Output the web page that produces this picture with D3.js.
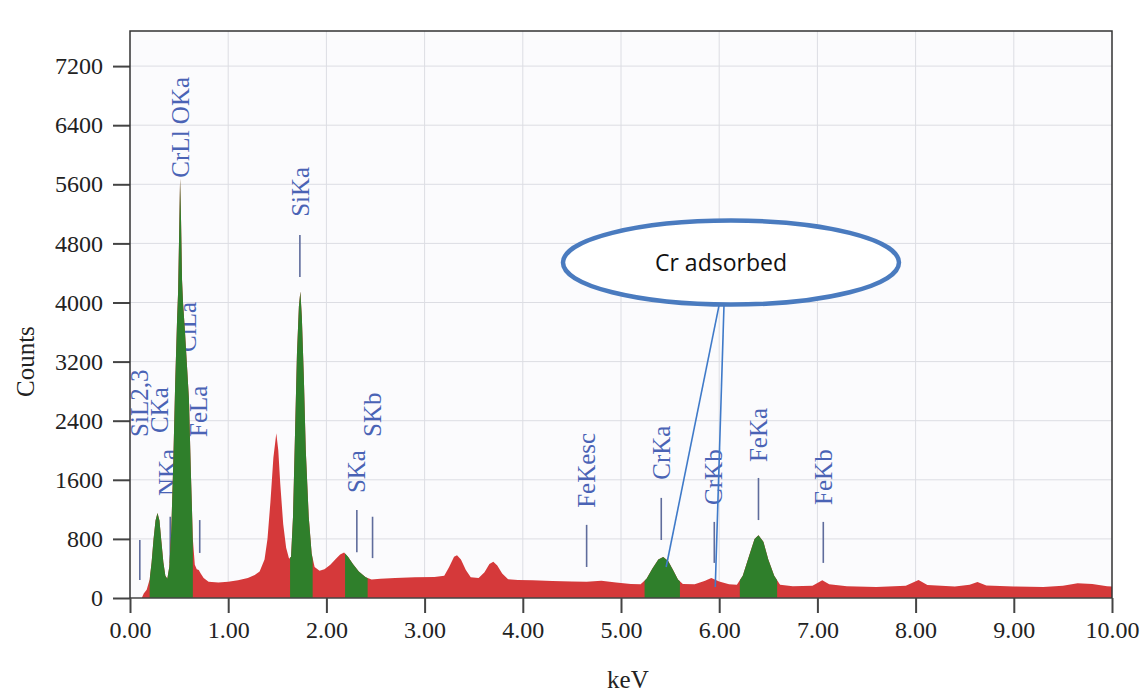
<!DOCTYPE html>
<html>
<head>
<meta charset="utf-8">
<script src="https://cdn.jsdelivr.net/npm/d3@7"></script>
<style>
  body { margin: 0; background: #fff; }
  svg { display: block; }
</style>
</head>
<body>
<div id="chart"></div>
<script>
// EDS spectrum: energy (keV) and counts
var energy = [0.12, 0.14, 0.17, 0.20, 0.22, 0.24, 0.26, 0.28, 0.30, 0.32, 0.34, 0.36, 0.38, 0.40, 0.42, 0.44,
  0.46, 0.48, 0.49, 0.50, 0.51, 0.52, 0.53, 0.54, 0.56, 0.58, 0.60, 0.62, 0.64, 0.66, 0.68, 0.70, 0.72, 0.75,
  0.80, 0.90, 1.00, 1.10, 1.20, 1.27, 1.32, 1.37, 1.40, 1.43, 1.46, 1.49, 1.51, 1.53, 1.56, 1.59, 1.62, 1.64,
  1.66, 1.68, 1.70, 1.72, 1.735, 1.75, 1.77, 1.79, 1.82, 1.85, 1.88, 1.93, 1.98, 2.04, 2.09, 2.14, 2.18, 2.22,
  2.27, 2.33, 2.40, 2.46, 2.55, 2.70, 2.90, 3.10, 3.20, 3.25, 3.30, 3.33, 3.37, 3.42, 3.47, 3.55, 3.61, 3.66,
  3.70, 3.74, 3.79, 3.85, 3.95, 4.10, 4.30, 4.50, 4.65, 4.80, 4.95, 5.10, 5.20, 5.26, 5.32, 5.38, 5.43, 5.48,
  5.53, 5.58, 5.63, 5.75, 5.85, 5.92, 6.00, 6.10, 6.18, 6.24, 6.30, 6.36, 6.40, 6.45, 6.50, 6.56, 6.62, 6.75,
  6.95, 7.05, 7.12, 7.30, 7.60, 7.90, 8.03, 8.12, 8.40, 8.55, 8.63, 8.72, 9.00, 9.30, 9.50, 9.65, 9.80, 9.95,
  10.00];
var counts = [0, 60, 110, 250, 480, 800, 1050, 1150, 1050, 760, 480, 300, 260, 420, 900, 1800,
  2900, 3800, 4150, 4900, 5680, 5100, 4300, 4000, 3600, 3150, 2700, 1700, 800, 450, 390, 380, 330, 270,
  220, 210, 220, 240, 270, 310, 360, 520, 800, 1300, 1900, 2230, 2000, 1550, 1000, 680, 530, 560,
  1100, 2200, 3300, 3950, 4150, 3800, 3000, 2000, 1100, 600, 420, 370, 390, 450, 520, 590, 615, 560,
  460, 360, 280, 250, 260, 270, 280, 285, 300, 420, 560, 580, 520, 380, 280, 270, 350, 460,
  490, 440, 330, 255, 245, 240, 230, 225, 220, 235, 210, 190, 185, 260, 400, 520, 555, 500,
  380, 250, 190, 185, 230, 270, 225, 185, 180, 300, 550, 800, 850, 760, 520, 300, 180, 160,
  165, 240, 185, 160, 150, 165, 245, 175, 155, 180, 215, 170, 155, 150, 165, 200, 190, 160,
  155];

// identified peaks, shown in green (keV ranges)
var peakStart = [0.20, 1.63, 2.19, 5.24, 6.21];
var peakEnd = [0.64, 1.86, 2.42, 5.60, 6.59];

// element line labels
var lineNames = ["SiL2,3", "CKa", "NKa", "CrLl OKa", "ClLa", "FeLa", "SiKa", "SKa", "SKb",
  "FeKesc", "CrKa", "CrKb", "FeKa", "FeKb"];
var lineKeV = [0.10, 0.30, 0.38, 0.51, 0.59, 0.70, 1.74, 2.31, 2.47, 4.65, 5.41, 5.94, 6.40, 7.06];
var lineTextCounts = [2180, 2235, 1380, 5690, 3330, 2180, 5160, 1420, 2180, 1220, 1600, 1260, 1840, 1260];
var markerKeV = [0.10, 0.41, 0.71, 1.73, 2.31, 2.47, 4.65, 5.41, 5.95, 6.40, 7.06];
var markerLow = [245, 475, 610, 4345, 620, 540, 420, 785, 475, 1055, 475];
var markerHigh = [785, 1100, 1055, 4915, 1190, 1100, 990, 1355, 1030, 1625, 1030];

var xTicks = [0, 1, 2, 3, 4, 5, 6, 7, 8, 9, 10];
var yTicks = [0, 800, 1600, 2400, 3200, 4000, 4800, 5600, 6400, 7200];

var W = 1148, H = 694;
var margin = { top: 31, right: 36, bottom: 96, left: 130 };
var width = W - margin.left - margin.right;
var height = H - margin.top - margin.bottom;

var svg = d3.select("#chart").append("svg")
  .attr("width", W)
  .attr("height", H);

var g = svg.append("g")
  .attr("transform", "translate(" + margin.left + "," + margin.top + ")");

var x = d3.scaleLinear().domain([0, 10]).range([0, width]);
var y = d3.scaleLinear().domain([0, 7675]).range([height, 0]);

var data = energy.map(function (e, i) { return { k: e, c: counts[i] }; });

// plot background + grid
g.append("rect").attr("width", width).attr("height", height).attr("fill", "#fbfbfd");

g.append("g").selectAll("line").data(xTicks.slice(1, -1)).enter().append("line")
  .attr("x1", function (d) { return x(d); }).attr("x2", function (d) { return x(d); })
  .attr("y1", 0).attr("y2", height)
  .attr("stroke", "#dcdde3").attr("stroke-width", 1);

g.append("g").selectAll("line").data(yTicks.slice(1)).enter().append("line")
  .attr("x1", 0).attr("x2", width)
  .attr("y1", function (d) { return y(d); }).attr("y2", function (d) { return y(d); })
  .attr("stroke", "#dcdde3").attr("stroke-width", 1);

// line labels (drawn under the spectrum, like the original)
var labelFont = "'Liberation Serif', 'DejaVu Serif', serif";
g.append("g").selectAll("text").data(lineNames).enter().append("text")
  .attr("transform", function (d, i) {
    return "translate(" + x(lineKeV[i]) + "," + y(lineTextCounts[i]) + ") rotate(-90)";
  })
  .attr("dy", "0.34em")
  .attr("font-family", labelFont)
  .attr("font-size", 25)
  .attr("fill", "#4a63b5")
  .text(function (d) { return d; });

// marker ticks
g.append("g").selectAll("line").data(markerKeV).enter().append("line")
  .attr("x1", function (d) { return x(d); }).attr("x2", function (d) { return x(d); })
  .attr("y1", function (d, i) { return y(markerLow[i]); })
  .attr("y2", function (d, i) { return y(markerHigh[i]); })
  .attr("stroke", "#5f6c9c").attr("stroke-width", 1.6);

// spectrum
var area = d3.area()
  .x(function (d) { return x(d.k); })
  .y0(y(0))
  .y1(function (d) { return y(d.c); })
  .curve(d3.curveLinear);

g.append("path").datum(data)
  .attr("d", area)
  .attr("fill", "#d5393a");

var clip = svg.append("defs").append("clipPath").attr("id", "peaks");
clip.selectAll("rect").data(peakStart).enter().append("rect")
  .attr("x", function (d) { return x(d); })
  .attr("width", function (d, i) { return x(peakEnd[i]) - x(d); })
  .attr("y", 0).attr("height", height);

g.append("path").datum(data)
  .attr("d", area)
  .attr("clip-path", "url(#peaks)")
  .attr("fill", "#2f7f2b");

// axes
var axisFont = "'Liberation Serif', 'DejaVu Serif', serif";
var yAxis = g.append("g")
  .call(d3.axisLeft(y).tickValues(yTicks).tickSize(17).tickPadding(10).tickFormat(d3.format("d")));
var xAxis = g.append("g")
  .attr("transform", "translate(0," + height + ")")
  .call(d3.axisBottom(x).tickValues(xTicks).tickSize(15).tickPadding(8).tickFormat(d3.format(".2f")));

[yAxis, xAxis].forEach(function (a) {
  a.select(".domain").remove();
  a.selectAll(".tick line").attr("stroke", "#444").attr("stroke-width", 2);
  a.selectAll(".tick text").attr("font-family", axisFont).attr("font-size", 24).attr("fill", "#222");
});

// frame
g.append("line").attr("x1", 0).attr("x2", width).attr("y1", height).attr("y2", height)
  .attr("stroke", "#444").attr("stroke-width", 1.5);
g.append("path")
  .attr("d", "M0," + height + "V0H" + width + "V" + height)
  .attr("fill", "none").attr("stroke", "#333").attr("stroke-width", 1.5);

// axis titles
svg.append("text")
  .attr("transform", "translate(34," + (margin.top + y(3200)) + ") rotate(-90)")
  .attr("text-anchor", "middle")
  .attr("font-family", axisFont).attr("font-size", 25).attr("fill", "#222")
  .text("Counts");
svg.append("text")
  .attr("x", margin.left + x(5.07)).attr("y", 688)
  .attr("text-anchor", "middle")
  .attr("font-family", axisFont).attr("font-size", 25).attr("fill", "#222")
  .text("keV");

// "Cr adsorbed" callout
var callX = margin.left + x(6.12), callY = margin.top + y(4540);
svg.append("line")
  .attr("x1", callX - 12).attr("y1", callY + 43)
  .attr("x2", margin.left + x(5.46)).attr("y2", margin.top + y(420))
  .attr("stroke", "#3f7ac9").attr("stroke-width", 1.6);
svg.append("line")
  .attr("x1", callX - 7).attr("y1", callY + 43)
  .attr("x2", margin.left + x(5.96)).attr("y2", margin.top + y(150))
  .attr("stroke", "#3f7ac9").attr("stroke-width", 1.6);
svg.append("ellipse")
  .attr("cx", callX).attr("cy", callY).attr("rx", 168).attr("ry", 42)
  .attr("fill", "#fff").attr("stroke", "#4a7bbf").attr("stroke-width", 4.5);
svg.append("text")
  .attr("x", callX - 10).attr("y", callY)
  .attr("dy", "0.35em")
  .attr("text-anchor", "middle")
  .attr("font-family", "'Open Sans', 'Liberation Sans', sans-serif")
  .attr("font-size", 23)
  .attr("fill", "#111")
  .text("Cr adsorbed");
</script>
</body>
</html>
